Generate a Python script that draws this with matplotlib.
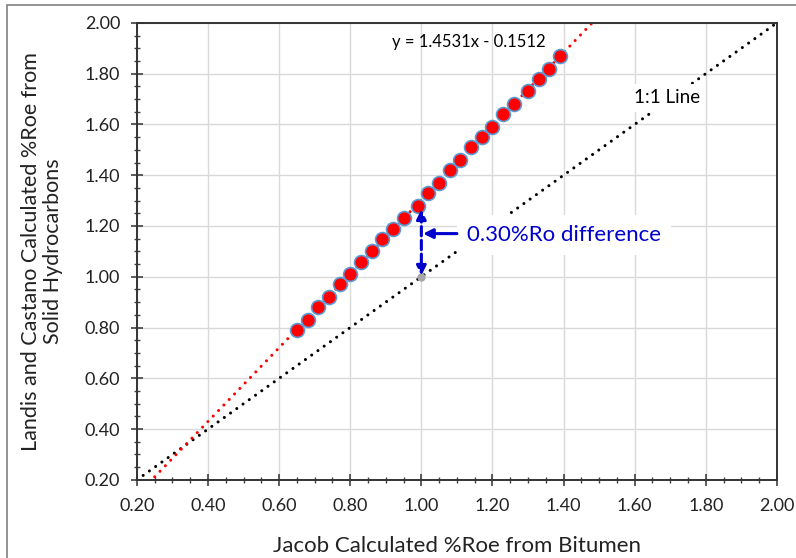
"""
Landis & Castano vs Jacob calculated %Roe (scatter with trendline and 1:1 line)
"""

import matplotlib.pyplot as plt
from matplotlib.patches import Rectangle
from matplotlib.ticker import MultipleLocator, FormatStrFormatter

plt.rcParams['font.family'] = ['Lato', 'DejaVu Sans']

# data
jacob_roe = [0.65, 0.68, 0.71, 0.74, 0.77, 0.80, 0.83, 0.86, 0.89, 0.92, 0.95, 0.99, 1.02,
             1.05, 1.08, 1.11, 1.14, 1.17, 1.20, 1.23, 1.26, 1.30, 1.33, 1.36, 1.39]
landis_roe = [0.79, 0.83, 0.88, 0.92, 0.97, 1.01, 1.06, 1.10, 1.15, 1.19, 1.23, 1.28, 1.33,
              1.37, 1.42, 1.46, 1.51, 1.55, 1.59, 1.64, 1.68, 1.73, 1.78, 1.82, 1.87]
slope, intercept = 1.4531, -0.1512
trend_x = [0.25, 1.48]
one_to_one = [0.20, 2.00]
ref_point = (1.00, 1.00)
diff_top = 1.28

fig = plt.figure(figsize=(7.96, 5.58), dpi=100)
ax = fig.add_axes([0.172, 0.140, 0.804, 0.819])

# grid
ax.set_axisbelow(True)
ax.grid(True, which='major', color='#d9d9d9', linewidth=1.0)

# 1:1 line and trendline
dots = dict(linewidth=2.2, linestyle=(0, (0.01, 2.5)), dash_capstyle='round')
ax.plot(one_to_one, one_to_one, color='black', zorder=2, **dots)
ax.plot(trend_x, [slope * x + intercept for x in trend_x], color='#ff0000', zorder=2, **dots)

# data points
ax.plot(jacob_roe, landis_roe, linestyle='none', marker='o', markersize=10,
        markerfacecolor='#ff0000', markeredgecolor='#5b9bd5', markeredgewidth=1.2, zorder=4)
ax.plot(*ref_point, marker='o', markersize=5, color='#a6a6a6', zorder=4)

# labels on chart
ax.text(0.917, 1.925, 'y = 1.4531x - 0.1512', fontsize=12, color='black',
        ha='left', va='center', zorder=5)
ax.text(1.69, 1.705, '1:1 Line', fontsize=13.5, color='black', ha='center', va='center', zorder=5,
        bbox=dict(boxstyle='square,pad=0.3', facecolor='white', edgecolor='none'))
ax.text(1.128, 1.165, '0.30%Ro difference', fontsize=16, color='#0000cc', ha='left', va='center',
        zorder=5, bbox=dict(boxstyle='square,pad=0.45', facecolor='white', edgecolor='none'))

# difference arrows
ax.annotate('', xy=(ref_point[0], ref_point[1] + 0.005), xytext=(ref_point[0], diff_top - 0.015),
            arrowprops=dict(arrowstyle='<|-|>', color='#0000cc', lw=2.2, linestyle=(0, (3, 1.5)),
                            mutation_scale=14, shrinkA=0, shrinkB=0), zorder=6)
ax.annotate('', xy=(ref_point[0] + 0.005, 1.17), xytext=(1.10, 1.17),
            arrowprops=dict(arrowstyle='-|>', color='#0000cc', lw=2.2,
                            mutation_scale=14, shrinkA=0, shrinkB=0), zorder=6)

# axes styling
ax.set_xlim(0.20, 2.00)
ax.set_ylim(0.20, 2.00)
for a in (ax.xaxis, ax.yaxis):
    a.set_major_locator(MultipleLocator(0.2))
    a.set_minor_locator(MultipleLocator(0.05))
    a.set_major_formatter(FormatStrFormatter('%.2f'))
ax.tick_params(which='major', direction='inout', length=8, width=1.2, color='#404040',
               labelsize=13, labelcolor='#222222')
ax.tick_params(axis='x', which='major', pad=9)
ax.tick_params(axis='y', which='major', pad=8)
ax.tick_params(which='minor', direction='inout', length=4, width=1.0, color='#404040')
for s in ax.spines.values():
    s.set_color('#333333')
    s.set_linewidth(1.4)

ax.set_xlabel('Jacob Calculated %Roe from Bitumen', fontsize=16, color='#222222', labelpad=16)
ax.set_ylabel('Landis and Castano Calculated %Roe from\nSolid Hydrocarbons', fontsize=15.5,
              color='#222222', labelpad=16, linespacing=1.1)

# outer border of the picture
fig.patches.append(Rectangle((0.009, -0.05), 1.2, 0.041 + 1.0, transform=fig.transFigure,
                             fill=False, edgecolor='#808080', linewidth=1.2))

plt.savefig('out.png', dpi=100)
plt.close()
